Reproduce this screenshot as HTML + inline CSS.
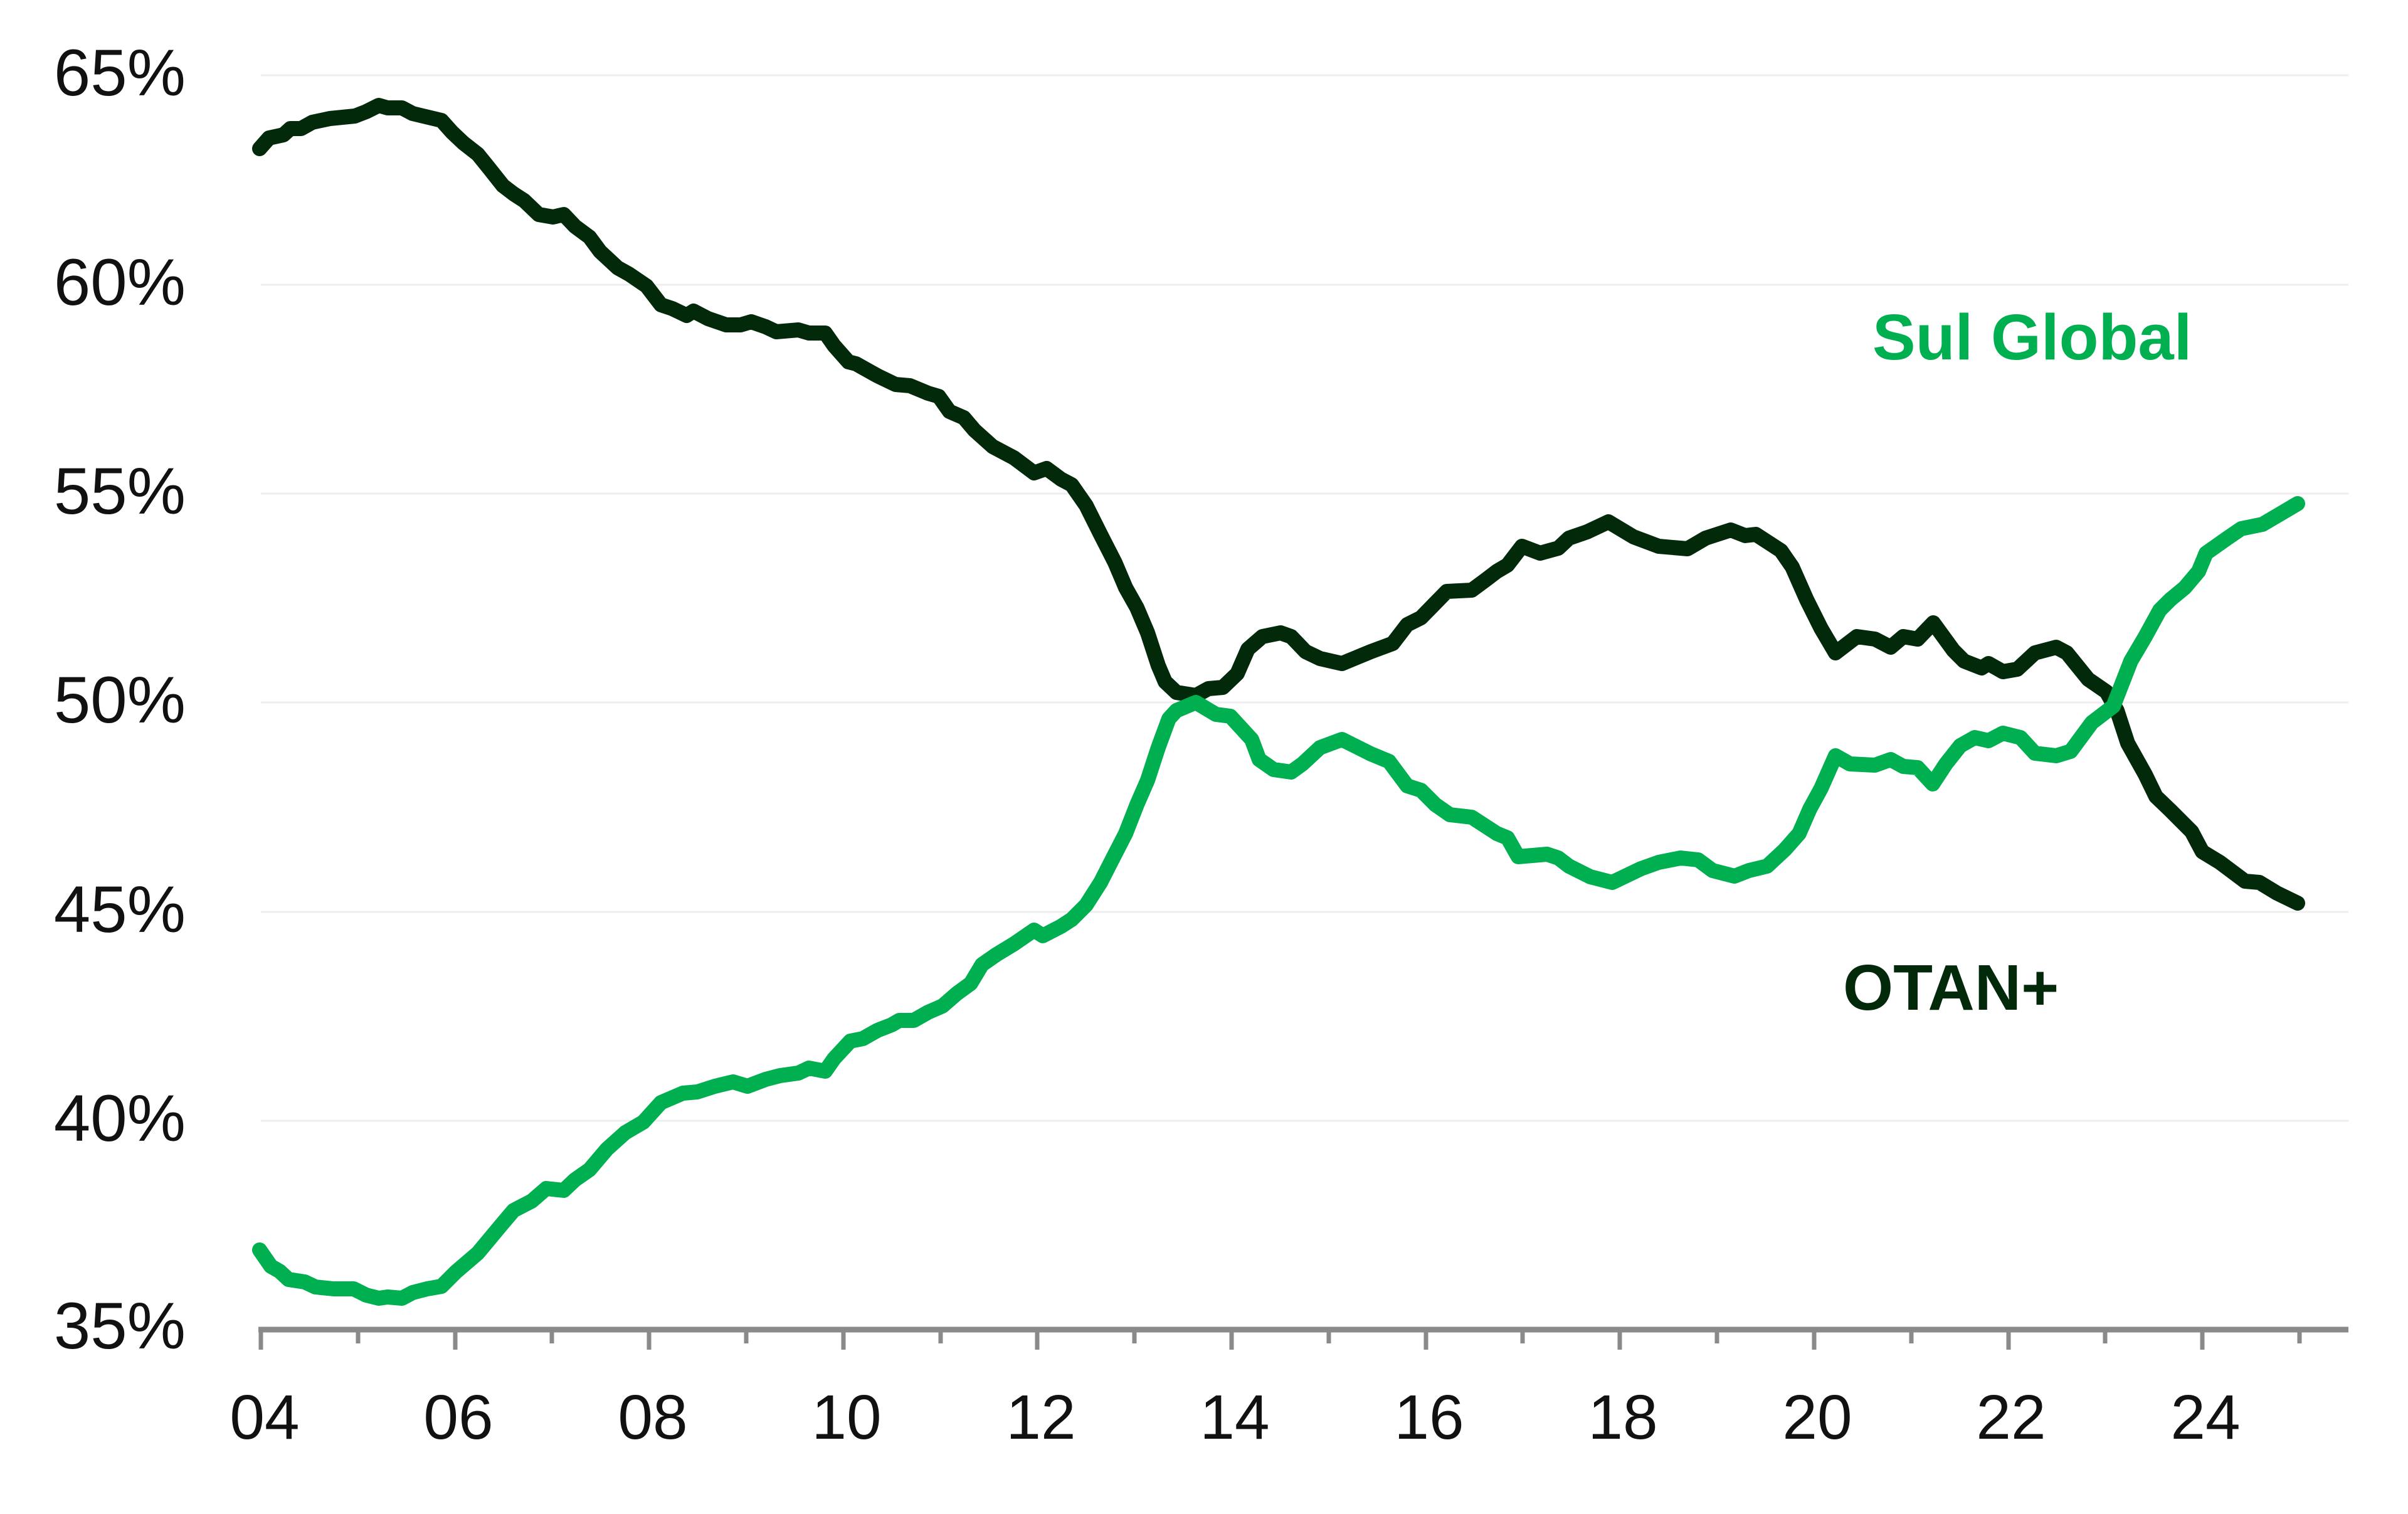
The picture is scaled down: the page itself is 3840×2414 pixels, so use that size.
<!DOCTYPE html>
<html>
<head>
<meta charset="utf-8">
<style>
html,body{margin:0;padding:0;background:#ffffff;}
svg{display:block;}
</style>
</head>
<body>
<svg width="3840" height="2414" viewBox="0 0 3840 2414" xmlns="http://www.w3.org/2000/svg">
<rect x="0" y="0" width="3840" height="2414" fill="#ffffff"/>
<g stroke="#eeeeee" stroke-width="3">
<line x1="416" y1="120" x2="3745" y2="120"/>
<line x1="416" y1="454" x2="3745" y2="454"/>
<line x1="416" y1="787" x2="3745" y2="787"/>
<line x1="416" y1="1120" x2="3745" y2="1120"/>
<line x1="416" y1="1454" x2="3745" y2="1454"/>
<line x1="416" y1="1787" x2="3745" y2="1787"/>
</g>
<g font-family="Liberation Sans, Arial, sans-serif" font-size="105" fill="#111111" text-anchor="end">
<text x="296" y="152">65%</text>
<text x="296" y="486">60%</text>
<text x="296" y="819">55%</text>
<text x="296" y="1152">50%</text>
<text x="296" y="1486">45%</text>
<text x="296" y="1819">40%</text>
<text x="296" y="2150">35%</text>
</g>
<g stroke="#8a8a8a" stroke-width="7">
<line x1="416" y1="2120" x2="416" y2="2152"/>
<line x1="571" y1="2120" x2="571" y2="2142"/>
<line x1="726" y1="2120" x2="726" y2="2152"/>
<line x1="880" y1="2120" x2="880" y2="2142"/>
<line x1="1035" y1="2120" x2="1035" y2="2152"/>
<line x1="1190" y1="2120" x2="1190" y2="2142"/>
<line x1="1345" y1="2120" x2="1345" y2="2152"/>
<line x1="1500" y1="2120" x2="1500" y2="2142"/>
<line x1="1654" y1="2120" x2="1654" y2="2152"/>
<line x1="1809" y1="2120" x2="1809" y2="2142"/>
<line x1="1964" y1="2120" x2="1964" y2="2152"/>
<line x1="2119" y1="2120" x2="2119" y2="2142"/>
<line x1="2274" y1="2120" x2="2274" y2="2152"/>
<line x1="2428" y1="2120" x2="2428" y2="2142"/>
<line x1="2583" y1="2120" x2="2583" y2="2152"/>
<line x1="2738" y1="2120" x2="2738" y2="2142"/>
<line x1="2893" y1="2120" x2="2893" y2="2152"/>
<line x1="3048" y1="2120" x2="3048" y2="2142"/>
<line x1="3203" y1="2120" x2="3203" y2="2152"/>
<line x1="3357" y1="2120" x2="3357" y2="2142"/>
<line x1="3512" y1="2120" x2="3512" y2="2152"/>
<line x1="3667" y1="2120" x2="3667" y2="2142"/>
</g>
<line x1="412" y1="2120" x2="3745" y2="2120" stroke="#8a8a8a" stroke-width="9"/>
<g font-family="Liberation Sans, Arial, sans-serif" font-size="100" fill="#111111" text-anchor="middle">
<text x="422" y="2294">04</text>
<text x="731" y="2294">06</text>
<text x="1041" y="2294">08</text>
<text x="1350" y="2294">10</text>
<text x="1660" y="2294">12</text>
<text x="1969" y="2294">14</text>
<text x="2279" y="2294">16</text>
<text x="2588" y="2294">18</text>
<text x="2898" y="2294">20</text>
<text x="3207" y="2294">22</text>
<text x="3517" y="2294">24</text>
</g>
<polyline fill="none" stroke="#022a0a" stroke-width="24" stroke-linejoin="round" stroke-linecap="round" points="414,237 429,220 452,215 463,205 480,205 498,195 526,189 566,185 584,178 604,168 618,172 641,172 658,181 704,192 721,211 739,228 762,246 779,267 802,296 819,309 836,320 859,342 882,346 899,342 917,361 940,378 957,401 985,427 1003,437 1031,456 1054,486 1072,492 1095,503 1106,496 1129,508 1158,518 1181,518 1198,513 1221,521 1238,529 1273,526 1290,531 1316,531 1330,551 1353,577 1365,580 1399,599 1428,613 1451,615 1480,627 1497,632 1514,656 1537,666 1554,686 1583,712 1617,730 1649,754 1669,747 1692,764 1709,773 1732,806 1755,852 1778,897 1795,937 1813,969 1830,1009 1847,1061 1858,1087 1876,1104 1907,1109 1927,1098 1950,1096 1973,1074 1990,1035 2013,1015 2042,1009 2059,1015 2082,1039 2105,1050 2140,1058 2186,1039 2221,1026 2244,996 2266,985 2307,943 2347,941 2370,924 2387,911 2404,901 2427,871 2456,882 2485,874 2502,858 2531,848 2565,832 2605,856 2645,871 2691,875 2720,858 2760,845 2783,854 2800,852 2840,878 2858,904 2881,956 2904,1002 2927,1041 2944,1028 2961,1015 2990,1019 3015,1032 3035,1015 3058,1019 3083,993 3115,1037 3132,1054 3160,1065 3171,1058 3194,1071 3217,1067 3245,1041 3279,1032 3296,1041 3330,1083 3359,1103 3376,1133 3393,1185 3421,1235 3438,1270 3461,1292 3495,1326 3512,1358 3540,1375 3580,1405 3603,1407 3631,1424 3664,1440"/>
<polyline fill="none" stroke="#00b050" stroke-width="24" stroke-linejoin="round" stroke-linecap="round" points="414,1993 432,2019 446,2027 460,2040 486,2044 503,2052 532,2055 564,2055 584,2065 604,2070 618,2068 641,2070 658,2061 681,2055 704,2051 727,2028 762,1998 802,1950 819,1930 848,1915 871,1895 899,1898 917,1881 940,1865 968,1832 997,1806 1026,1789 1054,1758 1089,1743 1112,1741 1140,1732 1169,1725 1192,1732 1221,1721 1244,1715 1273,1711 1290,1703 1316,1708 1330,1688 1356,1660 1376,1656 1399,1643 1422,1634 1434,1627 1457,1627 1480,1614 1503,1604 1526,1584 1548,1568 1566,1538 1589,1522 1617,1505 1649,1483 1663,1492 1692,1477 1709,1466 1732,1443 1755,1407 1778,1362 1795,1329 1813,1283 1830,1244 1847,1192 1864,1146 1876,1133 1907,1120 1939,1139 1962,1142 1996,1179 2008,1211 2031,1227 2059,1231 2077,1218 2105,1192 2140,1179 2186,1202 2215,1214 2244,1253 2266,1260 2289,1283 2312,1299 2347,1303 2387,1329 2404,1336 2421,1366 2467,1362 2485,1368 2502,1381 2536,1398 2571,1407 2617,1385 2645,1375 2680,1368 2708,1371 2731,1388 2766,1397 2789,1388 2818,1381 2846,1355 2869,1329 2886,1290 2904,1257 2927,1205 2950,1218 2990,1220 3015,1211 3035,1222 3058,1224 3082,1250 3103,1218 3126,1189 3149,1176 3171,1181 3194,1169 3222,1176 3245,1201 3279,1205 3302,1198 3336,1152 3370,1126 3398,1054 3421,1015 3444,973 3461,956 3484,937 3506,911 3518,882 3552,858 3574,843 3608,836 3642,816 3664,803"/>
<text x="2986" y="573" font-family="Liberation Sans, Arial, sans-serif" font-weight="bold" font-size="103" fill="#00b050">Sul Global</text>
<text x="2939" y="1610" font-family="Liberation Sans, Arial, sans-serif" font-weight="bold" font-size="103" fill="#022a0a">OTAN+</text>
</svg>
</body>
</html>
